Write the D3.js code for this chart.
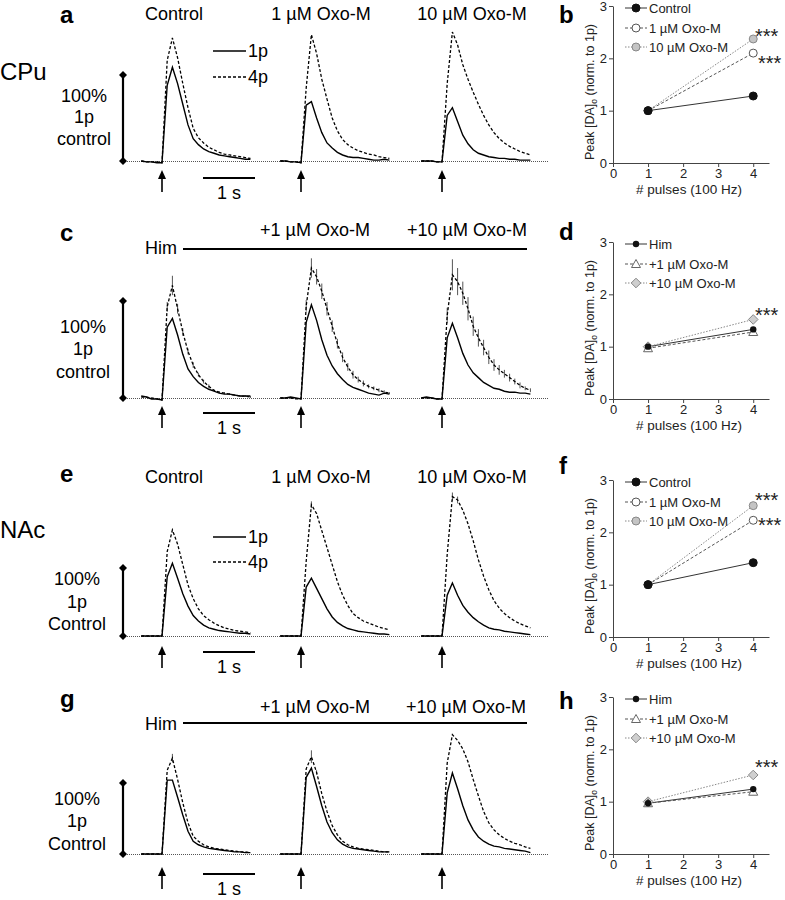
<!DOCTYPE html>
<html><head><meta charset="utf-8">
<script src="https://cdn.jsdelivr.net/npm/d3@7"></script>
<style>body{margin:0;background:#fff}svg{display:block}text{font-family:Arial,"Liberation Sans",Helvetica,sans-serif}</style>
</head><body><svg id="fig" width="785" height="900"></svg>
<script>
// ---------- DATA ----------
const timeS = [-0.4,-0.3,-0.2,-0.1,0,0.1,0.2,0.3,0.4,0.5,0.6,0.7,0.8,0.9,1.0,1.1,1.2,1.3,1.4,1.5,1.6,1.7];
const condTitles = ["Control","1 µM Oxo-M","10 µM Oxo-M"];
const himTitles = ["+1 µM Oxo-M","+10 µM Oxo-M"];
const legendTrace = ["1p","4p"];

// traces in units of the "100% 1p control" scale bar
const a_ctrl_1p = [0,-0.01,-0.01,-0.02,-0.02,0.88,1.09,0.90,0.66,0.42,0.26,0.19,0.14,0.11,0.09,0.07,0.06,0.05,0.04,0.03,0.02,0.02];
const a_ctrl_4p = [0,-0.01,-0.01,-0.01,-0.02,1.17,1.43,1.20,0.90,0.62,0.38,0.27,0.21,0.16,0.13,0.10,0.08,0.07,0.06,0.05,0.04,0.03];
const a_1um_1p = [0,0,-0.01,-0.01,-0.02,0.65,0.69,0.50,0.33,0.21,0.15,0.10,0.07,0.05,0.04,0.04,0.03,0.02,0.01,0.01,0.02,0.01];
const a_1um_4p = [0,0,-0.01,-0.01,-0.02,0.85,1.47,1.25,0.95,0.72,0.50,0.35,0.25,0.19,0.15,0.12,0.10,0.08,0.07,0.05,0.04,0.03];
const a_10um_1p = [0,0,0,-0.01,-0.01,0.53,0.62,0.46,0.30,0.20,0.13,0.09,0.07,0.05,0.04,0.03,0.03,0.02,0.02,0.01,0.01,0.01];
const a_10um_4p = [0,0,0,-0.01,-0.01,0.90,1.50,1.35,1.12,0.95,0.80,0.66,0.53,0.42,0.33,0.26,0.21,0.17,0.14,0.11,0.09,0.07];

const c_him_1p = [0.02,0.01,-0.01,-0.01,-0.02,0.73,0.82,0.65,0.45,0.30,0.22,0.16,0.12,0.09,0.07,0.05,0.04,0.04,0.03,0.02,0.02,0.02];
const c_him_4p = [0.01,0.01,0,-0.01,-0.02,0.94,1.16,0.92,0.68,0.48,0.34,0.24,0.17,0.12,0.08,0.06,0.05,0.04,0.03,0.02,0.02,0.01];
const c_1um_1p = [0,0,0.01,0,-0.01,0.78,0.96,0.80,0.60,0.44,0.33,0.25,0.19,0.14,0.11,0.09,0.07,0.05,0.04,0.03,0.05,0.04];
const c_1um_4p = [0,0,0,-0.01,-0.01,0.95,1.34,1.25,1.10,0.92,0.74,0.56,0.42,0.32,0.24,0.19,0.15,0.12,0.10,0.08,0.06,0.05];
const c_10um_1p = [0,0.01,0,-0.01,-0.01,0.62,0.77,0.62,0.46,0.34,0.26,0.21,0.16,0.13,0.10,0.09,0.07,0.06,0.06,0.05,0.05,0.04];
const c_10um_4p = [0,0,0,-0.01,-0.01,0.85,1.27,1.20,1.08,0.92,0.74,0.62,0.52,0.42,0.34,0.29,0.25,0.21,0.17,0.13,0.10,0.08];
const c_him_4p_err = [0,0,0,0,0,0.05,0.10,0.05,0.04,0.03,0.03,0.02,0.02,0.02,0.01,0.01,0.01,0.01,0.01,0.01,0.01,0.01];
const c_1um_4p_err = [0,0,0,0,0,0.06,0.10,0.08,0.08,0.07,0.06,0.05,0.05,0.04,0.04,0.03,0.03,0.02,0.02,0.02,0.02,0.01];
const c_10um_4p_err = [0,0,0,0,0,0.08,0.16,0.14,0.12,0.12,0.10,0.09,0.08,0.07,0.06,0.05,0.04,0.04,0.03,0.03,0.02,0.02];

const e_ctrl_1p = [0,0,0,0,0,0.87,1.07,0.85,0.62,0.44,0.30,0.22,0.16,0.12,0.10,0.08,0.07,0.06,0.05,0.04,0.04,0.03];
const e_ctrl_4p = [0,0,0,0,0,1.24,1.56,1.35,1.05,0.75,0.55,0.40,0.30,0.24,0.19,0.15,0.12,0.10,0.08,0.07,0.06,0.05];
const e_1um_1p = [0,0,0,0,0,0.72,0.85,0.70,0.55,0.40,0.28,0.20,0.15,0.11,0.09,0.07,0.06,0.05,0.04,0.03,0.03,0.02];
const e_1um_4p = [0,0,0,0,0,1.10,1.93,1.80,1.55,1.30,1.05,0.80,0.60,0.45,0.33,0.27,0.22,0.19,0.16,0.13,0.11,0.09];
const e_10um_1p = [0,0,0,0,0,0.60,0.78,0.60,0.45,0.35,0.27,0.21,0.16,0.12,0.10,0.09,0.07,0.06,0.05,0.04,0.03,0.02];
const e_10um_4p = [0,0,0,0,0,1.20,2.05,2.00,1.85,1.65,1.40,1.12,0.88,0.68,0.52,0.41,0.33,0.27,0.22,0.18,0.15,0.12];
const e_1um_4p_err = [0,0,0,0,0,0,0.05,0,0,0,0,0,0,0,0,0,0,0,0,0,0,0];
const e_10um_4p_err = [0,0,0,0,0,0,0.06,0.05,0,0,0,0,0,0,0,0,0,0,0,0,0,0];

const g_him_1p = [0,0,0,0,0,1.04,1.04,0.80,0.55,0.32,0.18,0.13,0.10,0.08,0.07,0.06,0.05,0.04,0.03,0.03,0.02,0.02];
const g_him_4p = [0,0,0,0,0,1.18,1.35,1.05,0.72,0.44,0.25,0.18,0.13,0.10,0.08,0.07,0.06,0.05,0.04,0.03,0.03,0.02];
const g_1um_1p = [0,0,0,0,0,1.08,1.21,0.95,0.68,0.45,0.30,0.20,0.14,0.10,0.08,0.07,0.06,0.05,0.04,0.03,0.03,0.03];
const g_1um_4p = [0,0,0,0,0,1.20,1.37,1.15,0.85,0.60,0.40,0.27,0.18,0.13,0.10,0.08,0.07,0.06,0.05,0.04,0.03,0.03];
const g_10um_1p = [0,0,0,0,0,0.86,1.14,0.92,0.68,0.48,0.34,0.24,0.18,0.14,0.11,0.10,0.08,0.07,0.06,0.05,0.04,0.02];
const g_10um_4p = [0,0,0,0,0,1.28,1.68,1.60,1.48,1.30,1.05,0.82,0.60,0.44,0.34,0.27,0.22,0.18,0.15,0.13,0.10,0.08];
const g_him_4p_err = [0,0,0,0,0,0,0.06,0,0,0,0,0,0,0,0,0,0,0,0,0,0,0];
const g_1um_4p_err = [0,0,0,0,0,0,0.09,0.03,0,0,0,0,0,0,0,0,0,0,0,0,0,0];

// summary panels
const pulses = [1, 4];
const yTicks = [0, 1, 2, 3];
const xTicks = [0, 1, 2, 3, 4];
const ctrlNames = ["Control", "1 µM Oxo-M", "10 µM Oxo-M"];
const himNames = ["Him", "+1 µM Oxo-M", "+10 µM Oxo-M"];
const b_control = [1.0, 1.28], b_1um = [1.0, 2.10], b_10um = [1.0, 2.37];
const d_him = [1.0, 1.33], d_1um = [0.97, 1.28], d_10um = [1.0, 1.52];
const f_control = [1.0, 1.42], f_1um = [1.0, 2.23], f_10um = [1.0, 2.51];
const h_him = [0.97, 1.24], h_1um = [0.97, 1.19], h_10um = [1.0, 1.51];

// ---------- DRAW ----------
const svg = d3.select("#fig");
const FONT = 'Arial,"Liberation Sans",sans-serif';
const stimX = [162, 301, 442];
const pxPerSec = 52;

function diamond(g, x, y, r, fill, stroke){
  g.append("path").attr("d", `M${x},${y-r}L${x+r},${y}L${x},${y+r}L${x-r},${y}Z`)
   .attr("fill", fill).attr("stroke", stroke||"none");
}
function arrow(g, x, yTip){
  g.append("line").attr("x1",x).attr("x2",x).attr("y1",yTip+6).attr("y2",yTip+22).attr("stroke","#000").attr("stroke-width",1.6);
  g.append("path").attr("d",`M${x},${yTip}L${x+4},${yTip+9}L${x-4},${yTip+9}Z`).attr("fill","#000");
}

const rows = [
  {letter:"a", letterY:23, titles:condTitles, titleX:[174,321,472], titleY:20, base:161, top:75,
   labels:["100%","1p","control"], labelX:84, labelYs:[102,123,145], arrowTip:170, barY:178,
   region:"CPu", regionY:80, legendY:[51,77],
   traces:[[a_ctrl_1p,a_ctrl_4p],[a_1um_1p,a_1um_4p],[a_10um_1p,a_10um_4p]], errs:[null,null,null]},
  {letter:"c", letterY:241, titles:himTitles, titleX:[315,467], titleY:236, base:398, top:301,
   labels:["100%","1p","control"], labelX:83, labelYs:[333,355,378], arrowTip:406, barY:413,
   him:{textY:254, lineY:249},
   traces:[[c_him_1p,c_him_4p],[c_1um_1p,c_1um_4p],[c_10um_1p,c_10um_4p]], errs:[c_him_4p_err,c_1um_4p_err,c_10um_4p_err]},
  {letter:"e", letterY:482, titles:condTitles, titleX:[174,321,472], titleY:483, base:636, top:568,
   labels:["100%","1p","Control"], labelX:77, labelYs:[585,608,630], arrowTip:646, barY:652,
   region:"NAc", regionY:538, legendY:[537,562],
   traces:[[e_ctrl_1p,e_ctrl_4p],[e_1um_1p,e_1um_4p],[e_10um_1p,e_10um_4p]], errs:[null,e_1um_4p_err,e_10um_4p_err]},
  {letter:"g", letterY:707, titles:himTitles, titleX:[315,466], titleY:713, base:854, top:783,
   labels:["100%","1p","Control"], labelX:77, labelYs:[805,827,850], arrowTip:867, barY:874,
   him:{textY:730, lineY:723},
   traces:[[g_him_1p,g_him_4p],[g_1um_1p,g_1um_4p],[g_10um_1p,g_10um_4p]], errs:[g_him_4p_err,g_1um_4p_err,null]}
];

rows.forEach(r => {
  const g = svg.append("g");
  const y = d3.scaleLinear().domain([0,1]).range([r.base, r.top]);
  g.append("text").attr("x",60).attr("y",r.letterY).attr("font-size",24).attr("font-weight","bold").text(r.letter);
  r.titles.forEach((t,i) => g.append("text").attr("x",r.titleX[i]).attr("y",r.titleY).attr("text-anchor","middle").attr("font-size",18).text(t));
  if (r.region) g.append("text").attr("x",0).attr("y",r.regionY).attr("font-size",24).text(r.region);
  if (r.him) {
    g.append("text").attr("x",145).attr("y",r.him.textY).attr("font-size",18).text("Him");
    g.append("line").attr("x1",183).attr("x2",527).attr("y1",r.him.lineY).attr("y2",r.him.lineY).attr("stroke","#000").attr("stroke-width",2);
  }
  if (r.legendY) {
    legendTrace.forEach((t,i) => {
      g.append("line").attr("x1",213).attr("x2",246).attr("y1",r.legendY[i]).attr("y2",r.legendY[i])
        .attr("stroke","#000").attr("stroke-width",1.4).attr("stroke-dasharray", i ? "3,2" : null);
      g.append("text").attr("x",248).attr("y",r.legendY[i]+6).attr("font-size",18).text(t);
    });
  }
  // scale bar
  g.append("line").attr("x1",123).attr("x2",123).attr("y1",y(1)).attr("y2",y(0)).attr("stroke","#000").attr("stroke-width",2.2);
  diamond(g,123,y(1),4,"#000"); diamond(g,123,y(0),4,"#000");
  r.labels.forEach((t,i) => g.append("text").attr("x",r.labelX).attr("y",r.labelYs[i]).attr("text-anchor","middle").attr("font-size",18).text(t));
  // baseline
  g.append("line").attr("x1",127).attr("x2",548).attr("y1",r.base+0.5).attr("y2",r.base+0.5)
    .attr("stroke","#555").attr("stroke-width",1).attr("stroke-dasharray","1,1");
  // traces
  stimX.forEach((sx,ci) => {
    const x = d3.scaleLinear().domain([0,1]).range([sx, sx+pxPerSec]);
    const line = d3.line().x((d,i)=>x(timeS[i])).y(d=>y(d));
    const [p1,p4] = r.traces[ci];
    const err = r.errs[ci];
    if (err) {
      g.append("g").selectAll("line").data(p4.map((v,i)=>({v,e:err[i],t:timeS[i]})).filter(d=>d.e>0))
        .join("line").attr("x1",d=>x(d.t)).attr("x2",d=>x(d.t)).attr("y1",d=>y(d.v-d.e)).attr("y2",d=>y(d.v+d.e))
        .attr("stroke","#555").attr("stroke-width",1);
    }
    g.append("path").attr("d",line(p4)).attr("fill","none").attr("stroke","#000").attr("stroke-width",1.3).attr("stroke-dasharray","3,2");
    g.append("path").attr("d",line(p1)).attr("fill","none").attr("stroke","#000").attr("stroke-width",1.4);
    arrow(g, sx, r.arrowTip);
  });
  // time bar
  const xt = d3.scaleLinear().domain([0,1]).range([203,203+pxPerSec]);
  g.append("line").attr("x1",xt(0)).attr("x2",xt(1)).attr("y1",r.barY).attr("y2",r.barY).attr("stroke","#000").attr("stroke-width",2);
  g.append("text").attr("x",(xt(0)+xt(1))/2).attr("y",r.barY+21).attr("text-anchor","middle").attr("font-size",18).text("1 s");
});

// summary panels
const panels = [
  {letter:"b", letterY:23, y0:163, names:ctrlNames, kind:"ctrl", series:[b_control,b_1um,b_10um], stars:[[2,-7],[1,6]]},
  {letter:"d", letterY:240, y0:399, names:himNames, kind:"him", series:[d_him,d_1um,d_10um], stars:[[2,-8]]},
  {letter:"f", letterY:474, y0:637, names:ctrlNames, kind:"ctrl", series:[f_control,f_1um,f_10um], stars:[[2,-10],[1,1]]},
  {letter:"h", letterY:709, y0:854, names:himNames, kind:"him", series:[h_him,h_1um,h_10um], stars:[[2,-12]]}
];
const lineStyles = [{c:"#333",d:null},{c:"#555",d:"3,2"},{c:"#888",d:"1.5,1.5"}];

function marker(g, kind, si, x, y){
  if (kind==="ctrl"){
    const fills=["#111","#fff","#c4c4c4"], strokes=["#111","#555","#888"];
    g.append("circle").attr("cx",x).attr("cy",y).attr("r",4).attr("fill",fills[si]).attr("stroke",strokes[si]).attr("stroke-width",1);
  } else {
    if (si===0) g.append("circle").attr("cx",x).attr("cy",y).attr("r",3.2).attr("fill","#111");
    else if (si===1) g.append("path").attr("d",`M${x},${y-4.5}L${x+4.5},${y+3.5}L${x-4.5},${y+3.5}Z`).attr("fill","#fff").attr("stroke","#666").attr("stroke-width",1);
    else diamond(g,x,y,4.8,"#cfcfcf","#888");
  }
}

panels.forEach(p => {
  const g = svg.append("g");
  const x = d3.scaleLinear().domain([0,4.45]).range([613,769]);
  const y = d3.scaleLinear().domain([0,3]).range([p.y0, p.y0-157]);
  g.append("text").attr("x",559).attr("y",p.letterY).attr("font-size",24).attr("font-weight","bold").text(p.letter);
  const ax = g.append("g").attr("transform",`translate(0,${p.y0})`)
    .call(d3.axisBottom(x).tickValues(xTicks).tickFormat(d3.format("d")).tickSize(4).tickSizeOuter(0).tickPadding(2));
  const ay = g.append("g").attr("transform",`translate(613,0)`)
    .call(d3.axisLeft(y).tickValues(yTicks).tickFormat(d3.format("d")).tickSize(4).tickSizeOuter(0).tickPadding(2));
  [ax,ay].forEach(a => {
    a.attr("font-size",13).attr("font-family",FONT);
    a.selectAll("path,line").attr("stroke","#444");
    a.selectAll("text").attr("fill","#222");
  });
  g.append("text").attr("x",(x(0)+x(4.45))/2-2).attr("y",p.y0+31).attr("text-anchor","middle").attr("font-size",13.5).attr("fill","#222").text("# pulses (100 Hz)");
  const yt = g.append("text").attr("transform",`translate(594,${p.y0-71}) rotate(-90)`).attr("text-anchor","middle").attr("font-size",12.5).attr("fill","#222");
  yt.append("tspan").text("Peak [DA]");
  yt.append("tspan").attr("font-size",8.5).attr("dy",3).text("o");
  yt.append("tspan").attr("dy",-3).text(" (norm. to 1p)");
  // series
  p.series.forEach((vals,si) => {
    const st = lineStyles[si];
    const line = d3.line().x((d,i)=>x(pulses[i])).y(d=>y(d));
    g.append("path").attr("d",line(vals)).attr("fill","none").attr("stroke",st.c).attr("stroke-width",1).attr("stroke-dasharray",st.d);
  });
  [2,1,0].forEach(si => p.series[si].forEach((v,i) => marker(g,p.kind,si,x(pulses[i]),y(v))));
  // legend
  const legOff = [2,22,41];
  p.names.forEach((n,si) => {
    const ly = p.y0-157+legOff[si];
    const st = lineStyles[si];
    g.append("line").attr("x1",625).attr("x2",647).attr("y1",ly).attr("y2",ly).attr("stroke",st.c).attr("stroke-width",1).attr("stroke-dasharray",st.d);
    marker(g,p.kind,si,636,ly);
    g.append("text").attr("x",649).attr("y",ly+5).attr("font-size",13).attr("fill","#222").text(n);
  });
  // stars
  p.stars.forEach(([si,dy]) => {
    const v = p.series[si][1];
    g.append("text").attr("x", dy>0 ? 758 : 755).attr("y", y(v)+dy+11).attr("font-size",20).attr("fill","#222").text("***");
  });
});
</script></body></html>
